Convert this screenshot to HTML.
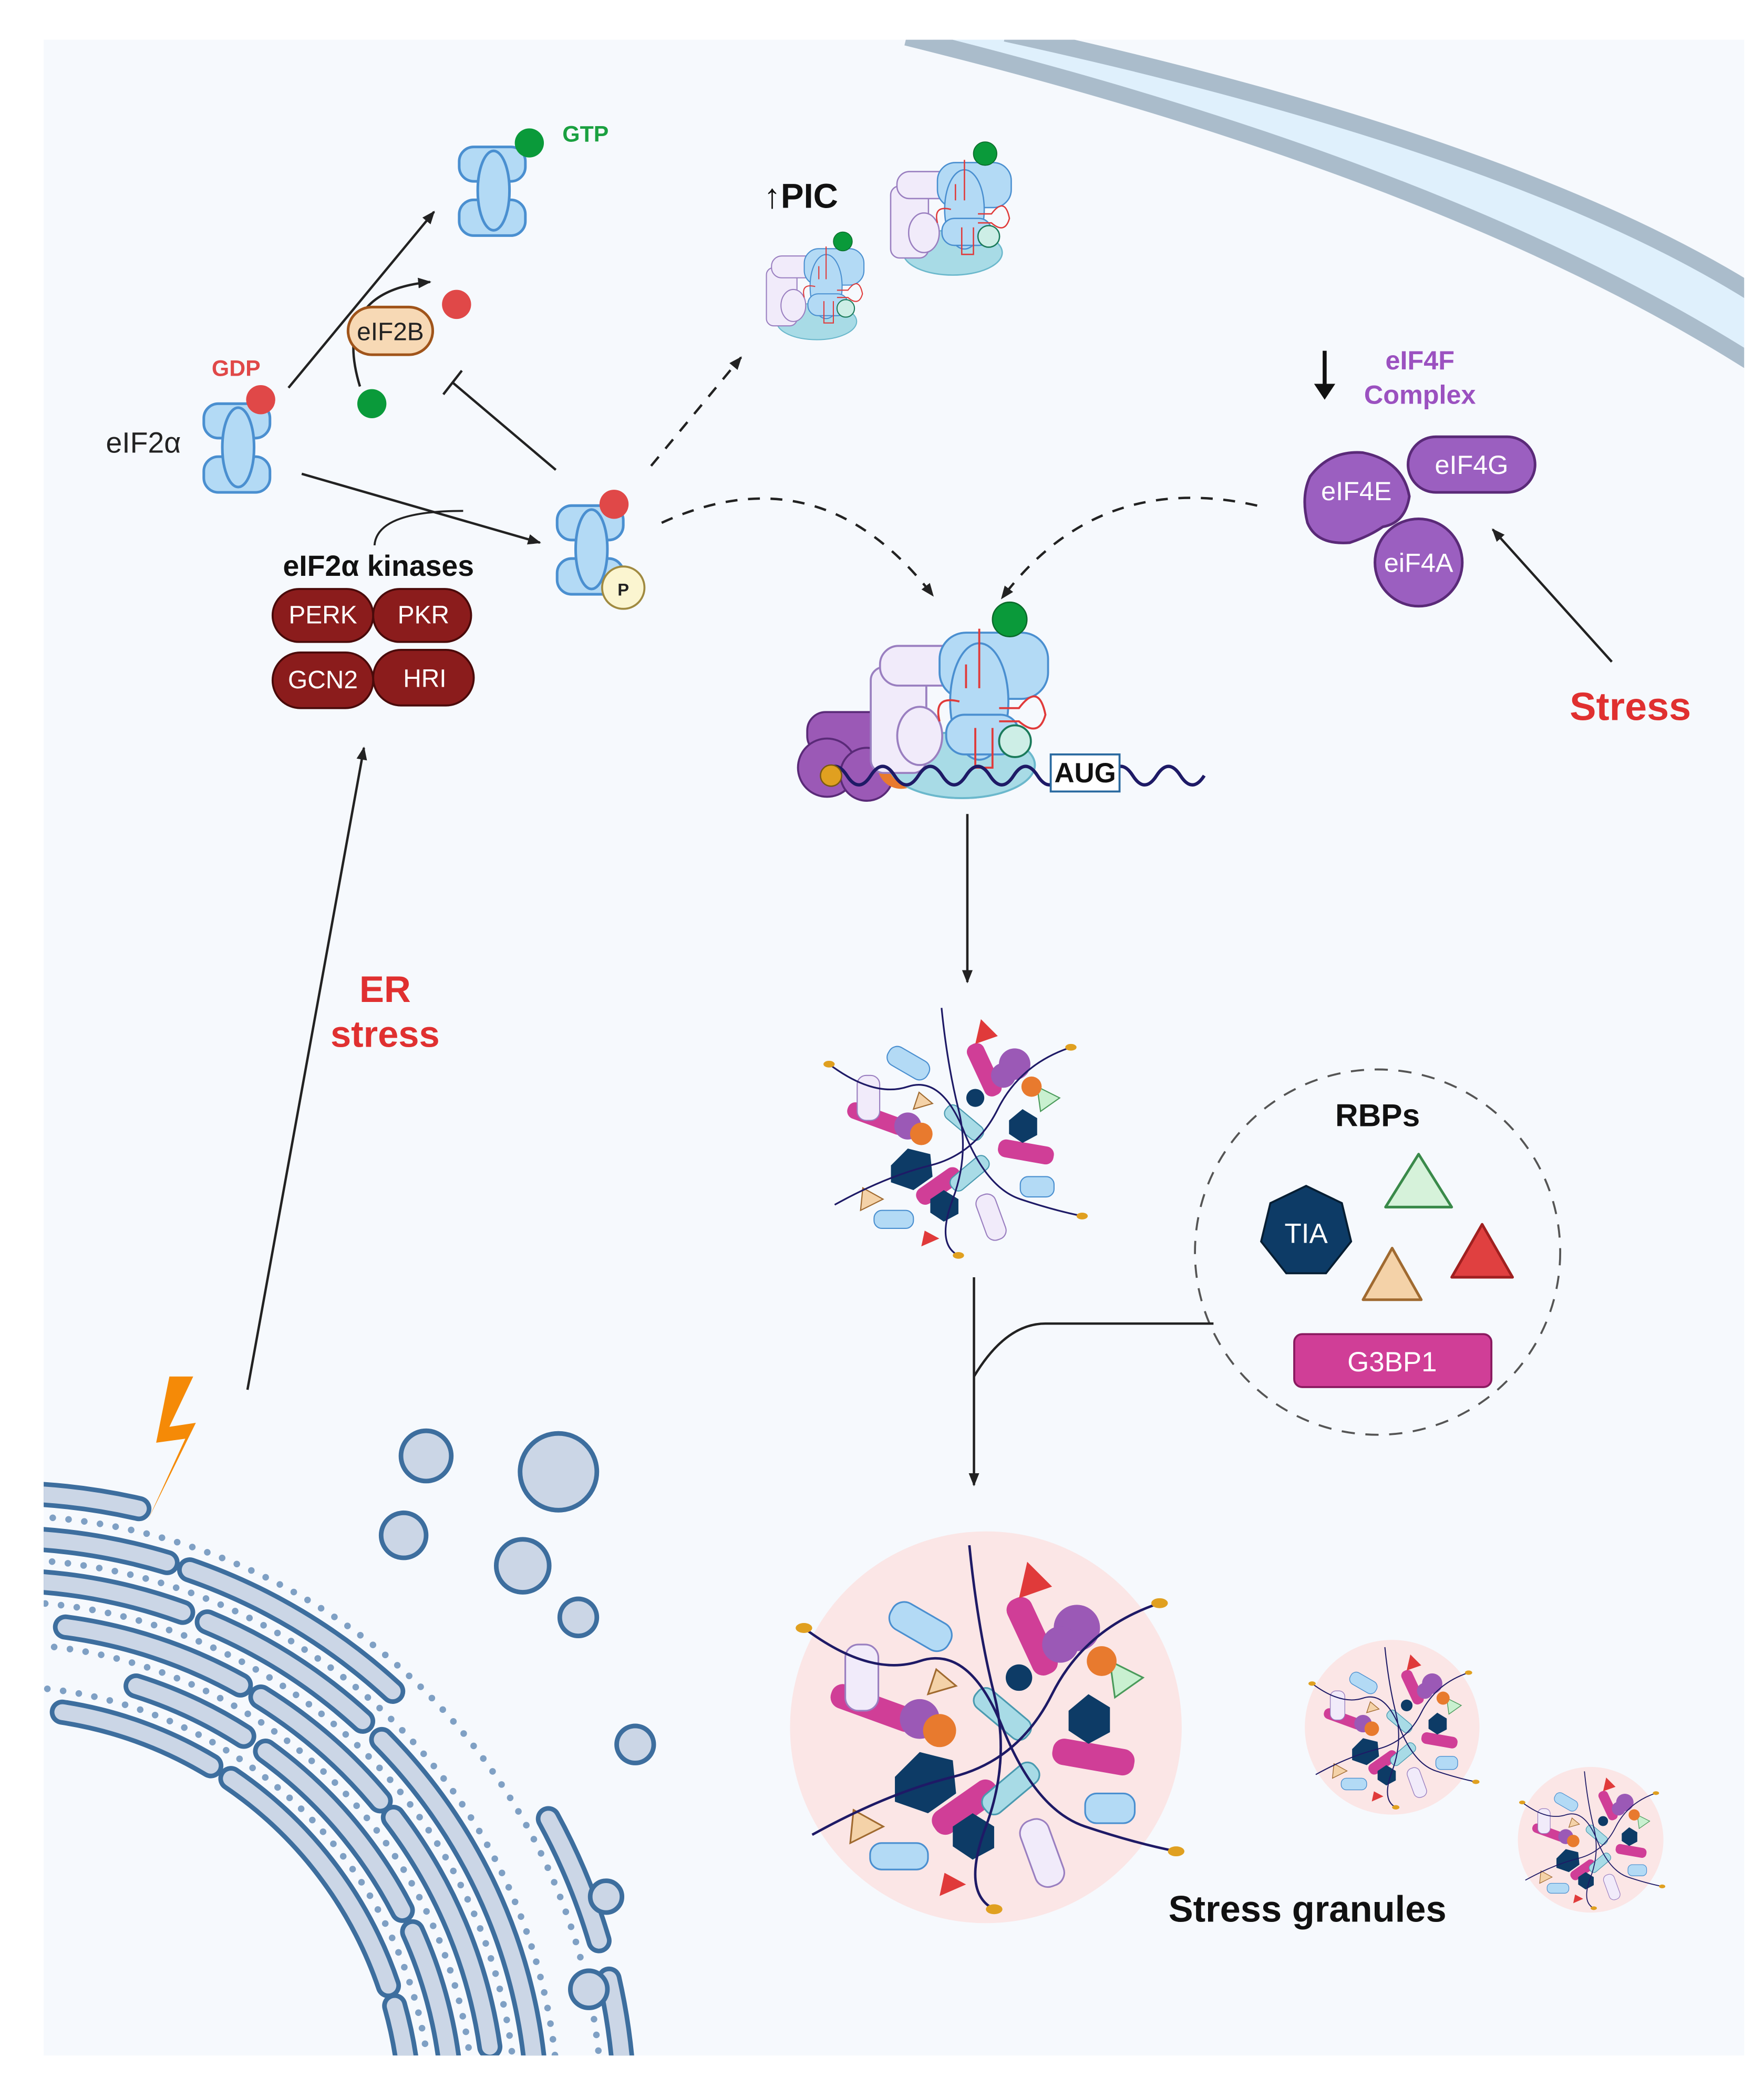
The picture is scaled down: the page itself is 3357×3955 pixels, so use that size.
<!DOCTYPE html>
<html><head><meta charset="utf-8"><style>
html,body{margin:0;padding:0;background:#fff;overflow:hidden;width:3357px;height:3955px}
svg{display:block}
text{font-family:"Liberation Sans",Arial,sans-serif}
</style></head><body>
<svg width="3357" height="3955" viewBox="0 0 1333 1570" preserveAspectRatio="none" xmlns="http://www.w3.org/2000/svg">
<defs>
<clipPath id="pc"><rect x="33" y="30" width="1285" height="1523"/></clipPath>
<marker id="ah" markerWidth="10" markerHeight="10" refX="9" refY="5" orient="auto" markerUnits="userSpaceOnUse"><path d="M0,1 L10,5 L0,9 Z" fill="#222"/></marker>
<g id="eif2">
 <rect x="-26" y="-32" width="50" height="26" rx="11" fill="#b3daf5" stroke="#4a8fd0" stroke-width="2"/>
 <rect x="-26" y="8" width="50" height="27" rx="11" fill="#b3daf5" stroke="#4a8fd0" stroke-width="2"/>
 <ellipse cx="0" cy="1" rx="12" ry="30" fill="#b3daf5" stroke="#4a8fd0" stroke-width="2"/>
</g>
<g id="core">
 <ellipse cx="22" cy="38" rx="55" ry="25" fill="#a8dbe6" stroke="#6bb8cc" stroke-width="1.5"/>
 <rect x="-47" y="-36" width="42" height="80" rx="10" fill="#f1ebfa" stroke="#9a7fc0" stroke-width="1.5"/>
 <rect x="-40" y="-52" width="78" height="30" rx="14" fill="#f1ebfa" stroke="#9a7fc0" stroke-width="1.5"/>
 <ellipse cx="-10" cy="16" rx="17" ry="22" fill="#f1ebfa" stroke="#9a7fc0" stroke-width="1.5"/>
 <rect x="5" y="-62" width="82" height="50" rx="20" fill="#b3daf5" stroke="#4a8fd0" stroke-width="1.5"/>
 <ellipse cx="35" cy="-10" rx="22" ry="44" fill="#b3daf5" stroke="#4a8fd0" stroke-width="1.5"/>
 <rect x="10" y="0" width="55" height="30" rx="14" fill="#b3daf5" stroke="#4a8fd0" stroke-width="1.5"/>
 <path d="M35,-65 V-20 M25,-38 V-20 M5,5 Q0,-15 20,-10 M50,-5 H65 Q80,-25 85,0 Q80,18 65,5 H50 M32,10 V40 H45 V10" stroke="#e03a3a" stroke-width="1.5" fill="none"/>
 <circle cx="62" cy="20" r="12" fill="#cdeee6" stroke="#1a7a5a" stroke-width="1.5"/>
 <circle cx="58" cy="-72" r="13" fill="#0a9a3a" stroke="#0a6a2a" stroke-width="1"/>
</g>
<g id="cplx">
 <ellipse cx="22" cy="38" rx="55" ry="25" fill="#a8dbe6" stroke="#6bb8cc" stroke-width="1.5"/>
 <rect x="-95" y="-2" width="70" height="32" rx="14" fill="#9b59b6" stroke="#5a2a78" stroke-width="1.5"/>
 <circle cx="-80" cy="40" r="22" fill="#9b59b6" stroke="#5a2a78" stroke-width="1.5"/>
 <circle cx="-50" cy="45" r="20" fill="#9b59b6" stroke="#5a2a78" stroke-width="1.5"/>
 <circle cx="-24" cy="38" r="18" fill="#e87a2e"/>
 <use href="#core"/>
</g>
<g id="mess">
 <rect x="-60" y="-70" width="40" height="18" rx="8" fill="#b3daf5" stroke="#4a8fd0" transform="rotate(30 -40 -60)"/>
 <rect x="20" y="-80" width="16" height="50" rx="7" fill="#d03e97" transform="rotate(-25 28 -55)"/>
 <rect x="40" y="10" width="50" height="16" rx="7" fill="#d03e97" transform="rotate(10 65 18)"/>
 <rect x="-95" y="-20" width="55" height="15" rx="7" fill="#d03e97" transform="rotate(20 -70 -12)"/>
 <rect x="-35" y="40" width="45" height="16" rx="7" fill="#d03e97" transform="rotate(-35 -12 48)"/>
 <polygon points="-55,30 -40,15 -20,20 -18,40 -35,52 -55,45" fill="#0d3b66"/>
 <polygon points="50,-10 62,-20 75,-12 75,3 62,10 50,2" fill="#0d3b66"/>
 <polygon points="-20,60 -8,52 5,60 5,73 -8,80 -20,72" fill="#0d3b66"/>
 <circle cx="20" cy="-30" r="8" fill="#0d3b66"/>
 <polygon points="25,-100 40,-85 20,-78" fill="#e03a3a"/>
 <polygon points="-25,88 -12,95 -28,102" fill="#e03a3a"/>
 <polygon points="75,-40 95,-30 78,-18" fill="#c9f0d0" stroke="#4a9a5a"/>
 <polygon points="-80,50 -62,60 -82,70" fill="#f4d2a8" stroke="#a06a30"/>
 <polygon points="-30,-35 -18,-25 -35,-20" fill="#f4d2a8" stroke="#a06a30"/>
 <circle cx="55" cy="-60" r="14" fill="#9b59b6"/><circle cx="45" cy="-50" r="11" fill="#9b59b6"/>
 <circle cx="-40" cy="-5" r="12" fill="#9b59b6"/><circle cx="-28" cy="2" r="10" fill="#e87a2e"/>
 <circle cx="70" cy="-40" r="9" fill="#e87a2e"/>
 <rect x="-10" y="-15" width="40" height="14" rx="6" fill="#a8dbe6" stroke="#4a9ab0" transform="rotate(40 10 -8)"/>
 <rect x="-5" y="30" width="40" height="14" rx="6" fill="#a8dbe6" stroke="#4a9ab0" transform="rotate(-40 15 37)"/>
 <rect x="-85" y="-50" width="20" height="40" rx="8" fill="#f1ebfa" stroke="#9a7fc0"/>
 <rect x="25" y="55" width="18" height="42" rx="8" fill="#f1ebfa" stroke="#9a7fc0" transform="rotate(-20 34 76)"/>
 <rect x="-70" y="70" width="35" height="16" rx="7" fill="#b3daf5" stroke="#4a8fd0"/>
 <rect x="60" y="40" width="30" height="18" rx="7" fill="#b3daf5" stroke="#4a8fd0"/>
 <path d="M-110,-60 Q-70,-30 -40,-40 T10,0 T60,60 T115,75 M-105,65 Q-60,40 -20,30 T40,-20 T105,-75 M-10,-110 Q-5,-60 5,-20 T0,60 T5,110" stroke="#1e1a66" stroke-width="1.5" fill="none"/>
 <ellipse cx="-110" cy="-60" rx="5" ry="3" fill="#e0a020"/><ellipse cx="115" cy="75" rx="5" ry="3" fill="#e0a020"/>
 <ellipse cx="105" cy="-75" rx="5" ry="3" fill="#e0a020"/><ellipse cx="5" cy="110" rx="5" ry="3" fill="#e0a020"/>
</g>
</defs>

<rect x="0" y="0" width="1333" height="1570" fill="#fff"/>
<rect x="33" y="30" width="1285" height="1523" fill="#f6f9fd"/>

<g clip-path="url(#pc)">
 <path d="M760,25 Q1150,110 1330,225 L1330,275 Q1100,130 685,25 Z" fill="#dff0fc"/>
 <path d="M760,25 Q1150,110 1330,225" stroke="#aabccb" stroke-width="13" fill="none"/>
 <path d="M685,28 Q1100,130 1330,278" stroke="#aabccb" stroke-width="13" fill="none"/>
 <!-- ER -->
 <g fill="none">
  <g stroke="#3d6e9e" stroke-width="19" stroke-linecap="round">
   <circle cx="0" cy="1600" r="310" stroke-dasharray="120 18 200 16 400"/>
   <circle cx="0" cy="1600" r="342" stroke-dasharray="90 20 160 18 150 20 400"/>
   <circle cx="0" cy="1600" r="374" stroke-dasharray="140 18 120 16 190 22 400"/>
   <circle cx="0" cy="1600" r="406" stroke-dasharray="80 18 200 20 140 20 400"/>
   <circle cx="0" cy="1600" r="438" stroke-dasharray="180 22 130 18 180 400"/>
   <circle cx="0" cy="1600" r="472" stroke-dasharray="100 30 160 20 200 400"/>
  </g>
  <g stroke="#cbd6e6" stroke-width="12" stroke-linecap="round">
   <circle cx="0" cy="1600" r="310" stroke-dasharray="120 18 200 16 400"/>
   <circle cx="0" cy="1600" r="342" stroke-dasharray="90 20 160 18 150 20 400"/>
   <circle cx="0" cy="1600" r="374" stroke-dasharray="140 18 120 16 190 22 400"/>
   <circle cx="0" cy="1600" r="406" stroke-dasharray="80 18 200 20 140 20 400"/>
   <circle cx="0" cy="1600" r="438" stroke-dasharray="180 22 130 18 180 400"/>
   <circle cx="0" cy="1600" r="472" stroke-dasharray="100 30 160 20 200 400"/>
  </g>
  <g stroke="#7fa0c4" stroke-width="5" stroke-linecap="round" stroke-dasharray="0 12">
   <circle cx="0" cy="1600" r="326"/><circle cx="0" cy="1600" r="358"/><circle cx="0" cy="1600" r="390"/><circle cx="0" cy="1600" r="422"/><circle cx="0" cy="1600" r="455"/>
  </g>
 </g>
 <g fill="#cbd6e6" stroke="#3d6e9e" stroke-width="3.5">
  <circle cx="322" cy="1100" r="19"/><circle cx="422" cy="1112" r="29"/>
  <circle cx="305" cy="1160" r="17"/><circle cx="395" cy="1183" r="20"/>
  <circle cx="437" cy="1222" r="14"/><circle cx="480" cy="1318" r="14"/>
  <circle cx="458" cy="1433" r="12"/><circle cx="445" cy="1503" r="14"/>
 </g>
 <polygon points="128,1040 118,1090 140,1087 112,1148 148,1075 128,1078 146,1040" fill="#f58a07"/>
</g>

<text x="80" y="342" font-size="22" fill="#222">eIF2α</text>
<use href="#eif2" x="180" y="337"/>
<circle cx="197" cy="302" r="11" fill="#e04848"/>
<text x="160" y="284" font-size="17" font-weight="bold" fill="#e04848">GDP</text>
<line x1="218" y1="293" x2="328" y2="160" stroke="#222" stroke-width="1.8" marker-end="url(#ah)"/>
<use href="#eif2" x="373" y="143"/>
<circle cx="400" cy="108" r="11" fill="#0a9a3a"/>
<text x="425" y="107" font-size="17" font-weight="bold" fill="#1aa040">GTP</text>
<path d="M272,292 Q250,220 325,213" stroke="#222" stroke-width="1.8" fill="none" marker-end="url(#ah)"/>
<rect x="263" y="232" width="64" height="36" rx="18" fill="#f7d9b5" stroke="#a0541a" stroke-width="2"/>
<text x="295" y="257" font-size="19" text-anchor="middle" fill="#222">eIF2B</text>
<circle cx="345" cy="230" r="11" fill="#e04848"/>
<circle cx="281" cy="305" r="11" fill="#0a9a3a"/>
<line x1="420" y1="355" x2="342" y2="289" stroke="#222" stroke-width="1.8"/>
<line x1="335" y1="298" x2="349" y2="280" stroke="#222" stroke-width="1.8"/>
<line x1="228" y1="358" x2="408" y2="410" stroke="#222" stroke-width="1.8" marker-end="url(#ah)"/>
<path d="M283,412 Q285,386 350,386" stroke="#222" stroke-width="1.5" fill="none"/>
<use href="#eif2" x="447" y="414"/>
<circle cx="464" cy="381" r="11" fill="#e04848"/>
<circle cx="471" cy="444" r="16" fill="#fbf5d0" stroke="#a08a40" stroke-width="1.5"/>
<text x="471" y="450" font-size="13" font-weight="bold" text-anchor="middle" fill="#222">P</text>
<text x="286" y="435" font-size="22" font-weight="bold" text-anchor="middle" fill="#111">eIF2α kinases</text>
<g fill="#8b1c1c" stroke="#4a0a0a" stroke-width="1.5">
 <rect x="206" y="445" width="76" height="40" rx="20"/><rect x="282" y="445" width="74" height="40" rx="20"/>
 <rect x="206" y="493" width="76" height="42" rx="21"/><rect x="282" y="491" width="76" height="42" rx="21"/>
</g>
<g font-size="19" fill="#fff" text-anchor="middle">
 <text x="244" y="471">PERK</text><text x="320" y="471">PKR</text><text x="244" y="520">GCN2</text><text x="321" y="519">HRI</text>
</g>
<line x1="187" y1="1050" x2="275" y2="565" stroke="#222" stroke-width="1.8" marker-end="url(#ah)"/>
<text x="291" y="757" font-size="28" font-weight="bold" fill="#e03030" text-anchor="middle">ER</text>
<text x="291" y="791" font-size="28" font-weight="bold" fill="#e03030" text-anchor="middle">stress</text>

<line x1="492" y1="352" x2="560" y2="270" stroke="#222" stroke-width="1.8" stroke-dasharray="9 8" marker-end="url(#ah)"/>
<text x="577" y="157" font-size="26" font-weight="bold" fill="#111">↑PIC</text>
<use href="#core" transform="translate(705,165) scale(0.68)"/>
<use href="#core" transform="translate(605,222) scale(0.55)"/>

<path d="M500,395 Q620,340 705,450" stroke="#222" stroke-width="1.8" stroke-dasharray="9 8" fill="none" marker-end="url(#ah)"/>
<path d="M950,382 Q830,355 757,452" stroke="#222" stroke-width="1.8" stroke-dasharray="9 8" fill="none" marker-end="url(#ah)"/>

<line x1="1001" y1="265" x2="1001" y2="297" stroke="#111" stroke-width="3"/>
<polygon points="993,290 1009,290 1001,302" fill="#111"/>
<text x="1073" y="279" font-size="20" font-weight="bold" fill="#9b51c0" text-anchor="middle">eIF4F</text>
<text x="1073" y="305" font-size="20" font-weight="bold" fill="#9b51c0" text-anchor="middle">Complex</text>
<g fill="#9b5fc0" stroke="#5a2a78" stroke-width="2">
 <rect x="1064" y="330" width="96" height="42" rx="21"/>
 <path d="M990,360 Q1005,340 1030,342 Q1060,348 1065,375 Q1062,395 1045,398 Q1035,405 1020,410 Q995,412 988,395 Q983,375 990,360 Z"/>
 <circle cx="1072" cy="425" r="33"/>
</g>
<g font-size="20" fill="#fff" text-anchor="middle">
 <text x="1112" y="358">eIF4G</text><text x="1025" y="378">eIF4E</text><text x="1072" y="432">eiF4A</text>
</g>
<line x1="1218" y1="500" x2="1128" y2="400" stroke="#222" stroke-width="1.8" marker-end="url(#ah)"/>
<text x="1232" y="544" font-size="30" font-weight="bold" fill="#e03030" text-anchor="middle">Stress</text>

<use href="#cplx" transform="translate(705,540)"/>
<path d="M622,586 q9,-14 18,0 t18,0 t18,0 t18,0 t18,0 t18,0 t18,0 t18,0 t18,0 t18,0 t18,0 t18,0 t18,0 t18,0 t18,0 t18,0" stroke="#1e1a66" stroke-width="2.5" fill="none"/>
<circle cx="628" cy="586" r="8" fill="#e0a020" stroke="#7a5a10"/>
<rect x="794" y="570" width="52" height="28" fill="#fff" stroke="#2a6aa0" stroke-width="1.5"/>
<text x="820" y="591" font-size="21" font-weight="bold" text-anchor="middle" fill="#111">AUG</text>
<line x1="731" y1="615" x2="731" y2="742" stroke="#222" stroke-width="1.8" marker-end="url(#ah)"/>

<use href="#mess" transform="translate(720,855) scale(0.85)"/>

<circle cx="1041" cy="946" r="138" fill="none" stroke="#555" stroke-width="1.5" stroke-dasharray="10 8"/>
<text x="1041" y="851" font-size="24" font-weight="bold" text-anchor="middle" fill="#111">RBPs</text>
<polygon points="987,896 1014,909 1021,938 1002,962 972,962 953,938 960,909" fill="#0d3b66" stroke="#061e33" stroke-width="1.5"/>
<text x="987" y="939" font-size="21" fill="#fff" text-anchor="middle">TIA</text>
<path d="M1072,872 L1097,912 L1047,912 Z" fill="#d6f2da" stroke="#3a8a4a" stroke-width="2" stroke-linejoin="round"/>
<path d="M1052,943 L1074,982 L1030,982 Z" fill="#f4d2a8" stroke="#a06a30" stroke-width="2" stroke-linejoin="round"/>
<path d="M1120,925 L1143,965 L1097,965 Z" fill="#e04040" stroke="#a02020" stroke-width="2" stroke-linejoin="round"/>
<rect x="978" y="1008" width="149" height="40" rx="6" fill="#d03e97" stroke="#8a1a60" stroke-width="1.5"/>
<text x="1052" y="1036" font-size="21" fill="#fff" text-anchor="middle">G3BP1</text>
<line x1="736" y1="965" x2="736" y2="1122" stroke="#222" stroke-width="1.8" marker-end="url(#ah)"/>
<path d="M736,1040 Q760,1000 790,1000 L917,1000" stroke="#222" stroke-width="1.8" fill="none"/>

<circle cx="745" cy="1305" r="148" fill="#fbe6e6"/>
<use href="#mess" transform="translate(745,1305) scale(1.25)"/>
<circle cx="1052" cy="1305" r="66" fill="#fbe6e6"/>
<use href="#mess" transform="translate(1052,1305) scale(0.55)"/>
<circle cx="1202" cy="1390" r="55" fill="#fbe6e6"/>
<use href="#mess" transform="translate(1202,1390) scale(0.47)"/>
<text x="988" y="1452" font-size="28" font-weight="bold" text-anchor="middle" fill="#111">Stress granules</text>
</svg>
</body></html>
